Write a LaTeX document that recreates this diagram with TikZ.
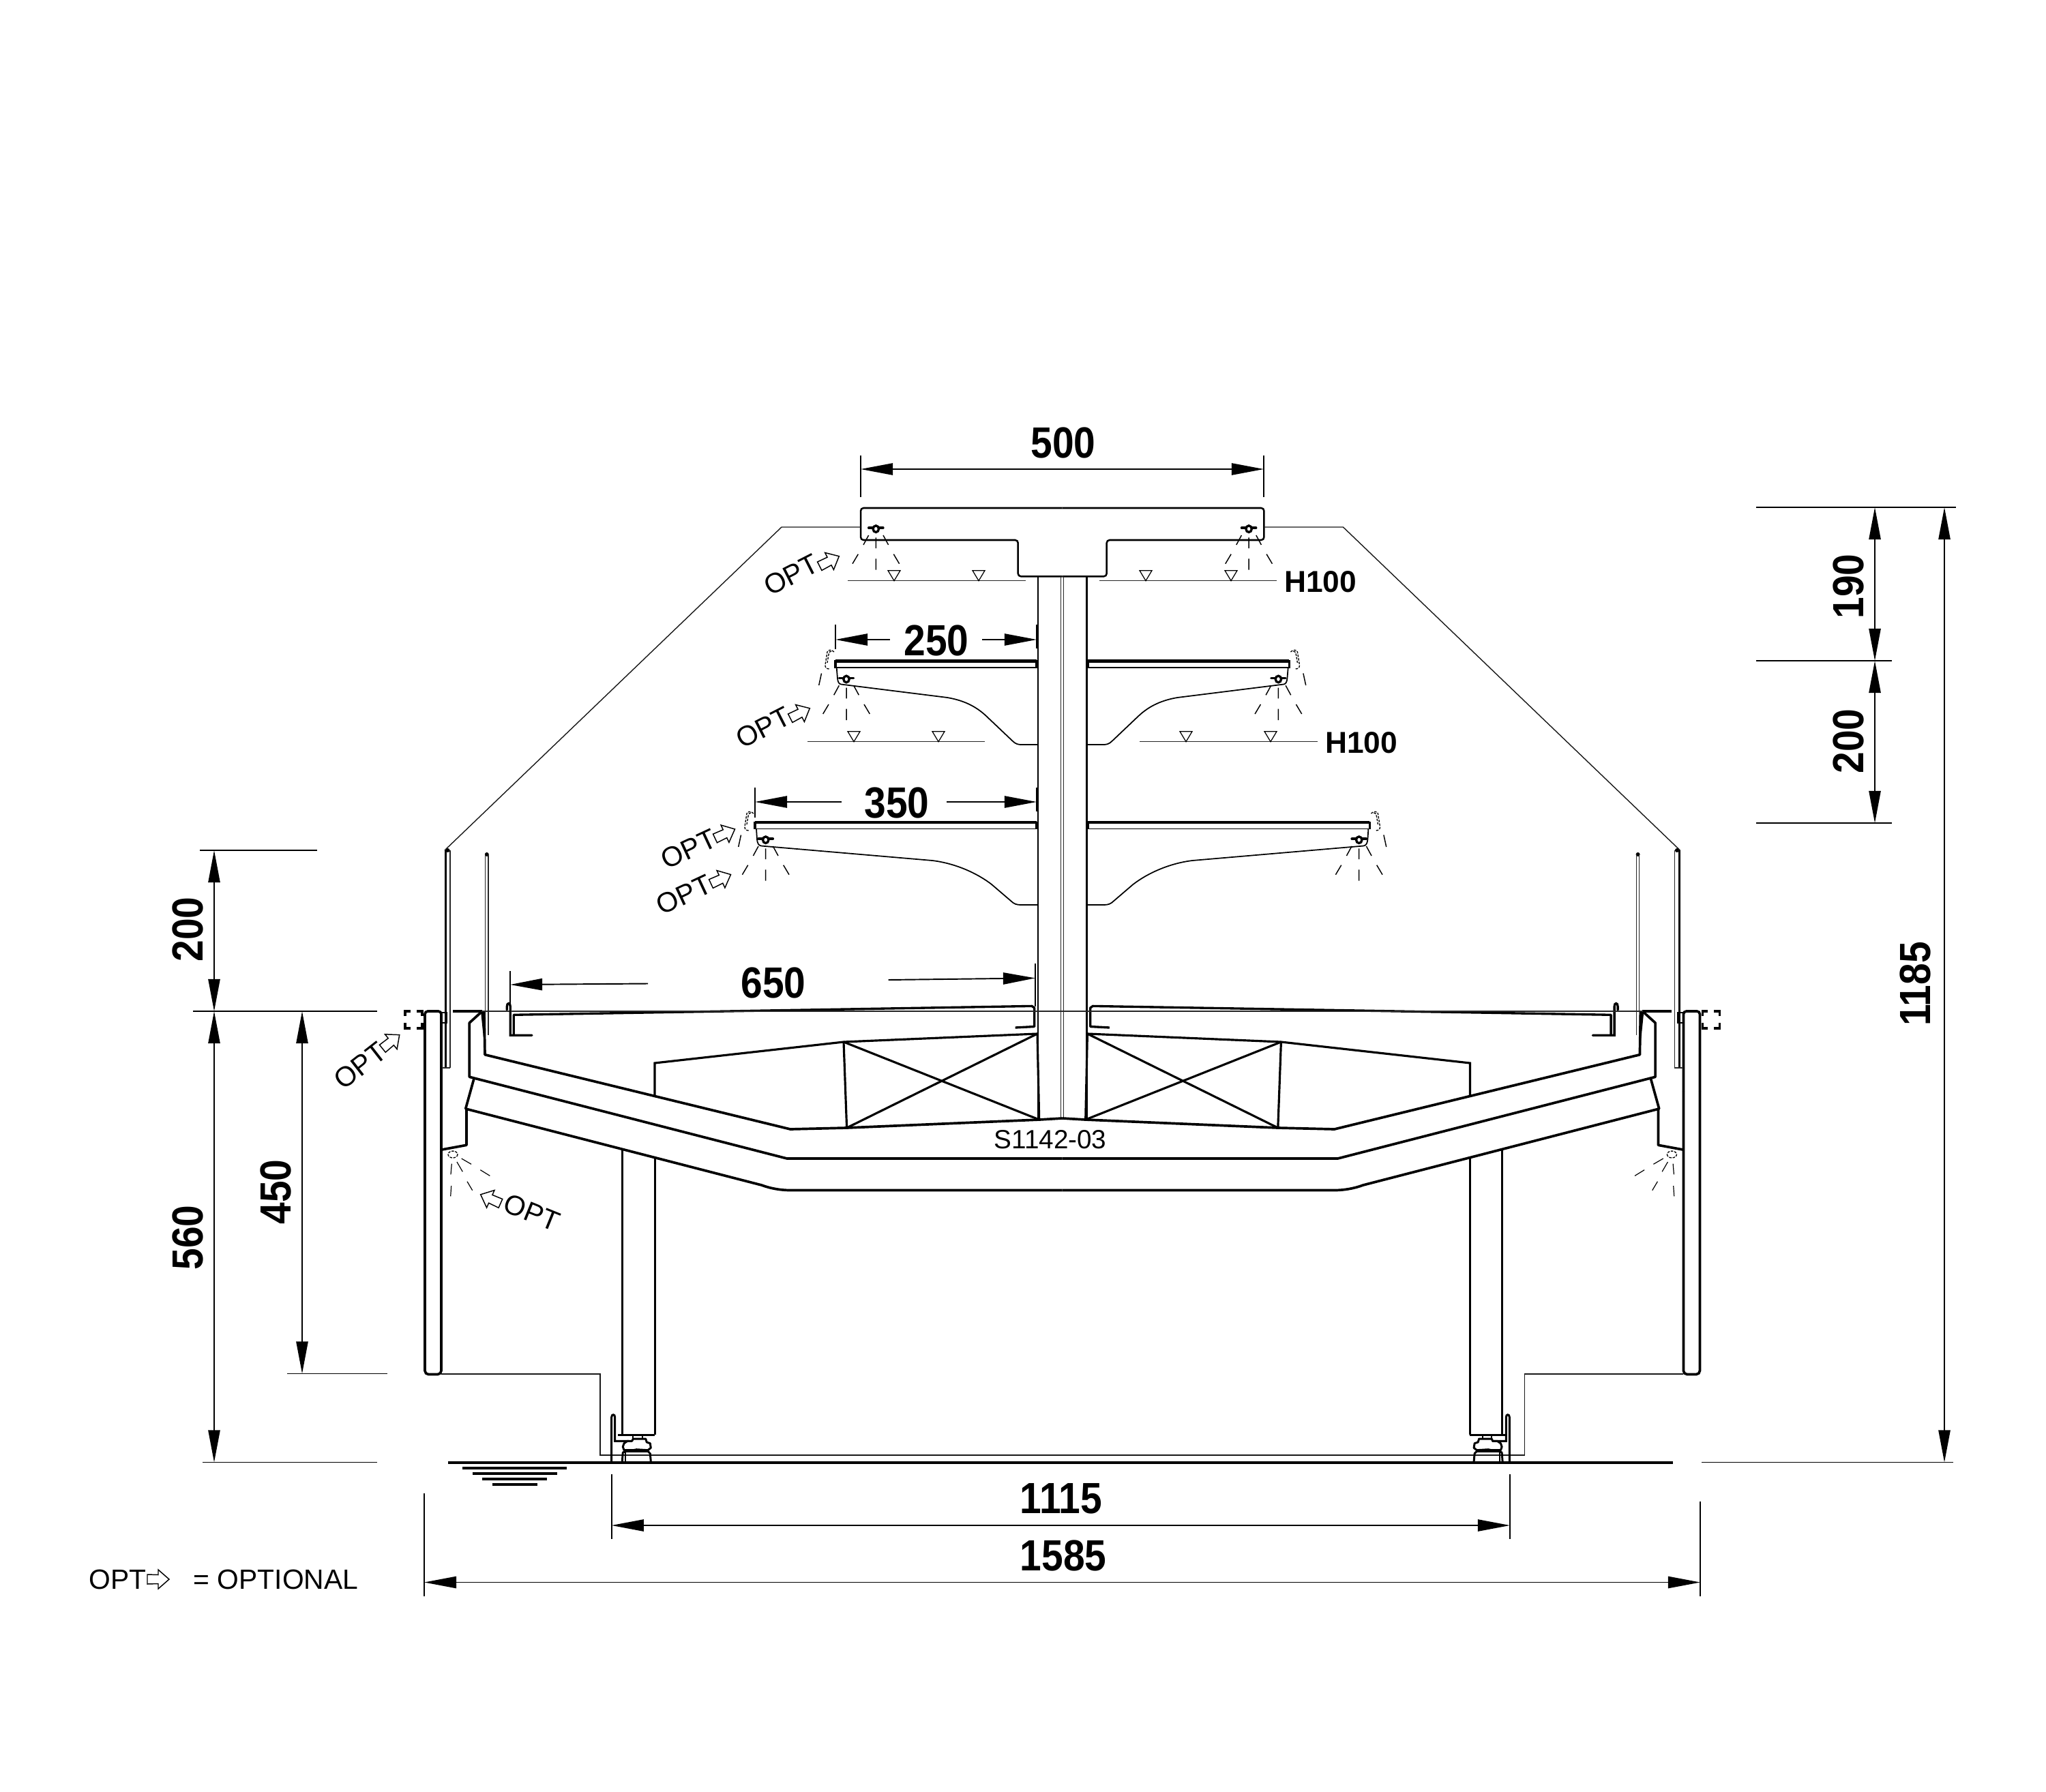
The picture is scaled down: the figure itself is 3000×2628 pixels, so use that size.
\documentclass[tikz,border=0pt]{standalone}
\usepackage{fontspec}
\setmainfont{Liberation Sans}
\newfontfamily\dimf{Liberation Sans}[FakeStretch=0.89]
\usetikzlibrary{arrows.meta}
\tikzset{
 thinl/.style={line width=0.4pt,black!90},
 hair/.style={line width=0.32pt,black!85},
 medl/.style={line width=0.72pt},
 cratel/.style={line width=0.9pt},
 heavy/.style={line width=1.05pt},
 shelfl/.style={line width=1.3pt},
 extl/.style={line width=0.55pt},
 dim/.style={line width=0.55pt,{Triangle[length=13.4pt,width=4.9pt]}-{Triangle[length=13.4pt,width=4.9pt]}},
 dimend/.style={line width=0.55pt,-{Triangle[length=13.4pt,width=4.9pt]}},
 dimtext/.style={inner sep=0pt,font=\dimf\bfseries\fontsize{18.2}{18.2}\selectfont},
 htext/.style={inner sep=0pt,font=\bfseries\fontsize{12.6}{12.6}\selectfont},
 opttext/.style={inner sep=0pt,font=\fontsize{11.6}{11.6}\selectfont},
 codetext/.style={inner sep=0pt,font=\fontsize{11}{11}\selectfont},
 spraydash/.style={line width=0.42pt,line cap=butt},
 lampdash/.style={line width=0.38pt,dash pattern=on 1pt off 0.5pt},
}
% nozzle with spray
\newcommand{\nozzlespray}[2]{%
 \begin{scope}[shift={(#1,#2)}]
  \draw[line width=0.95pt] (0,0) ellipse (4.2 and 4.8);
  \draw[line width=1.05pt,line cap=round] (-10.5,-1.5)--(-4.5,-1.5) (4.5,-1.5)--(10.5,-1.5);
  \draw[spraydash] (-10.7,9.3)--(-18.3,23.3) (-26,37)--(-34.3,51)
    (0,12.7)--(0,28.3) (0,43.7)--(0,60)
    (10.7,9.3)--(18.3,23.3) (26,37)--(34.3,51);
 \end{scope}}
% optional lamp, drawn dashed beside a shelf end
\newcommand{\lamp}[2]{%
 \begin{scope}[shift={(#1,#2)}]
  \draw[lampdash] (-2,-13) .. controls (-6,-17) and (-11,-16) .. (-12,-13) -- (-15,6) .. controls (-15.5,10) and (-13,12) .. (-9,12);
  \draw[lampdash] (-6,-14) .. controls (-8,-14) and (-9,-13) .. (-10,-9) -- (-12,3);
  \draw[spraydash] (-20.5,18.5)--(-24.3,36);
 \end{scope}}
% hollow optional arrow
\newcommand{\optarrow}[3]{%
 \begin{scope}[shift={(#1,#2)},rotate=#3]
  \draw[line width=0.42pt,line join=miter,fill=white] (-16,-7)--(0,-6.5)--(0,-14)--(16,0)--(0,14)--(0,6.5)--(-16,7)--cycle;
 \end{scope}}
% half of the symmetric machine, drawn twice
\newcommand{\foot}{%
  \draw[line width=0.85pt,line join=round] (912.3,2143.3)--(913.3,2130)--(918.3,2128.3)--(950,2128.3)--(953.3,2131.7)--(954.3,2143.3);
  \draw[line width=0.6pt] (916.7,2130)--(916.7,2143);
  \draw[line width=0.85pt,line join=round] (920,2113.3)--(915,2116.7)--(913.3,2121.7)--(915,2126.7)--(928.3,2126.7)--(933.3,2125.7)--(950,2126.7)--(954.3,2123.3)--(953.3,2116.7)--(948.3,2115)--(946.7,2110)--(928.3,2110)--(926.7,2113.3)--cycle;
  \draw[line width=0.6pt] (928.3,2104)--(928.3,2110) (941.7,2104)--(941.7,2110);
}
\newcommand{\halfmachine}{%
 % top box and glass
 \draw[medl,rounded corners=1.2pt] (1557.7,745)--(1262,745)--(1262,792)--(1492.7,792)--(1492.7,845.3)--(1557.7,845.3);
 \draw[thinl] (1262,773)--(1146,773)--(652,1247);
 \nozzlespray{1284.3}{775.7}
 % column
 \draw[medl] (1522,845)--(1522,1642);
 \draw[hair] (1555.5,845)--(1555.5,1640);
 % shelf 2
 \draw[shelfl] (1225,969.3)--(1520,969.3);
 \draw[line width=0.5pt] (1225,979.3)--(1520,979.3);
 \draw[line width=1pt] (1225,968)--(1225,980) (1520,968)--(1520,980);
 \draw[line width=0.5pt] (1226.7,979.3)--(1228,995) .. controls (1228.5,1000) and (1230,1003) .. (1233,1003.5) --(1389,1023) .. controls (1412,1027) and (1430,1035) .. (1446,1050)--(1485,1087) .. controls (1489,1091) and (1493,1092) .. (1497,1092)--(1522,1092);
 \nozzlespray{1241}{996}
 \lamp{1225}{969}
 % shelf 3
 \draw[shelfl] (1107,1206)--(1520,1206);
 \draw[line width=0.5pt] (1107,1215.5)--(1520,1215.5);
 \draw[line width=1pt] (1107,1205)--(1107,1216) (1520,1205)--(1520,1216);
 \draw[line width=0.5pt] (1109,1215.5)--(1110,1231) .. controls (1110.5,1236) and (1112,1240) .. (1116,1240.5)--(1367,1262) .. controls (1400,1266) and (1432,1280) .. (1454,1297)--(1482,1321) .. controls (1487,1326) and (1491,1327) .. (1497,1327)--(1522,1327);
 \nozzlespray{1122.7}{1231.7}
 \lamp{1107}{1206}
 % wall and glass panes
 \draw[heavy,rounded corners=1.2pt] (623,1600)--(623,1483)--(647,1483)--(647,1600);
 \draw[heavy,rounded corners=1.5pt] (647,1600)--(647,2015.5)--(623,2015.5)--(623,1600);
 \draw[thinl] (647,2015)--(880,2015)--(880,2134)--(1557.7,2134);
 \draw[line width=0.8pt] (653.3,1247)--(653.3,1566);
 \draw[hair] (660,1247)--(660,1566);
 \draw[hair] (647.5,1566)--(660,1566);
 \fill (656.5,1247) circle (3);
 \fill (713.8,1253) circle (3);
 \draw[hair] (711.7,1253)--(711.7,1483);
 \draw[hair] (716,1253)--(716,1517.7);
 \draw[line width=0.8pt] (647,1485)--(655,1485)--(655,1500)--(648,1500);
 \draw[line width=0.9pt] (664,1483)--(707,1483);
 \draw[line width=0.9pt] (602,1483)--(594,1483)--(594,1490) (611,1483)--(619,1483)--(619,1490)
   (602,1508)--(594,1508)--(594,1500) (611,1508)--(619,1508)--(619,1500);
 % trough
 \fill (705,1483)--(711.5,1483)--(711.5,1547)--cycle;
 \draw[heavy,line join=bevel] (706.7,1483.3)--(688.3,1500)--(688.3,1579.3)--(1153.9,1699)--(1557.7,1699);
 \draw[heavy,line join=bevel] (710,1483)--(711,1546.7)--(1158.8,1656)--(1241.6,1654)--(1524,1642)--(1557.7,1640);
 \draw[heavy,line join=bevel] (695,1581.7)--(682.7,1626)--(1116.7,1738) .. controls (1130,1743) and (1145,1745.5) .. (1158.8,1745.5)--(1557.7,1745.5);
 \draw[heavy,line join=bevel] (684,1626)--(684,1679.3)--(647.7,1686);
 % box and crate
 \draw[cratel] (960,1606)--(960,1559)--(1237,1528)--(1521,1516);
 \draw[cratel] (1237,1528)--(1241.6,1654);
 \draw[cratel] (1237,1528)--(1523.7,1642);
 \draw[cratel] (1241.6,1654)--(1521,1516);
 \draw[cratel] (1521,1516)--(1523.7,1642);
 % deck
 \draw[line width=0.95pt,line join=round] (1488.6,1507)--(1516.7,1505.5)--(1516.7,1478)--(1513,1475.4)--(753.3,1488.3)--(753.3,1518.3);
 \draw[line width=0.95pt,line cap=round] (780,1518.3)--(748.3,1518.3)--(748.3,1476) .. controls (748.3,1470) and (743.3,1470) .. (743.3,1476)--(743.3,1481);
 % leg and foot
 \draw[cratel] (912.7,1685)--(912.7,2104);
 \draw[cratel] (960.3,1698)--(960.3,2104);
 \draw[line width=0.85pt] (906,2104)--(960.3,2104);
 \foot
 % lower spray
 \draw[lampdash] (664,1693) ellipse (7 and 5);
 \draw[spraydash,line width=0.34pt] (662.3,1706.7)--(661,1722.3) (661.7,1739)--(660.7,1754.3)
  (670,1704)--(678.3,1718.3) (685,1732.7)--(692.7,1745.7)
  (676.7,1699)--(691,1707.3) (704.3,1715.7)--(718.3,1724.3);
}
\newcommand{\footbracket}{%
 \draw[line width=0.85pt,line cap=round] (896.7,2144)--(896.7,2078.3) .. controls (896.7,2073.5) and (901.7,2073.5) .. (901.7,2078.3)--(901.7,2113.3)--(921.7,2113.3);
}
\begin{document}
\begin{tikzpicture}[x=0.01cm,y=-0.01cm]
\useasboundingbox (0,0) rectangle (3000,2628);
% left half
\halfmachine
\footbracket
% right half
\begin{scope}[shift={(3115.4,0)},xscale=-1]
 \halfmachine
 \begin{scope}[shift={(5.4,0)}]\footbracket\end{scope}
\end{scope}
% centre parts
\draw[hair] (706,1483)--(2409,1483);
\draw[heavy] (657.3,2145)--(2452.7,2145);
\draw[heavy] (678.3,2152.7)--(830.7,2152.7);
\draw[heavy] (692.7,2160.7)--(816.7,2160.7);
\draw[heavy] (706.7,2169)--(801.7,2169);
\draw[heavy] (721.7,2177.3)--(788.3,2177.3);
% level lines with triangles
\foreach \xa/\xb/\yy in {1243/1504/851.7,1612/1872/851.7,1184/1444/1087.7,1671/1932/1087.7}
  \draw[hair] (\xa,\yy)--(\xb,\yy);
\foreach \xx/\yy in {1311/851.7,1435/851.7,1680/851.7,1805/851.7,1252/1087.7,1376/1087.7,1739/1087.7,1863/1087.7}
  \draw[line width=0.35pt] (\xx-9,\yy-15)--(\xx+9,\yy-15)--(\xx,\yy)--cycle;
\node[htext] (hA) at (1936,853) {H100};
\node[htext] (hB) at (1996,1089) {H100};
\node[codetext] (pn) at (1540,1671) {S1142-03};
% dimension 500
\draw[extl] (1262,668)--(1262,729);
\draw[extl] (1853,668)--(1853,729);
\coordinate (a500) at (1262,688); \coordinate (b500) at (1853,688);
\draw[dim] (a500)--(b500);
\node[dimtext] (t500) at (1559,649) {500};
% dimension 250
\draw[extl] (1225,916)--(1225,952);
\draw[line width=0.7pt] (1520.5,916)--(1520.5,951);
\coordinate (a250) at (1225,938); \coordinate (a250e) at (1305,938);
\coordinate (b250) at (1520,938); \coordinate (b250e) at (1440,938);
\draw[dimend] (a250e)--(a250);
\draw[dimend] (b250e)--(b250);
\node[dimtext] (t250) at (1373,939) {250};
% dimension 350
\draw[extl] (1107,1155)--(1107,1199);
\draw[line width=0.7pt] (1520.5,1155)--(1520.5,1190);
\coordinate (a350) at (1107,1176); \coordinate (a350e) at (1234,1176);
\coordinate (b350) at (1520,1176); \coordinate (b350e) at (1388,1176);
\draw[dimend] (a350e)--(a350);
\draw[dimend] (b350e)--(b350);
\node[dimtext] (t350) at (1315,1178) {350};
% dimension 650
\draw[extl] (748,1424)--(748,1518);
\draw[line width=0.55pt] (1518,1413)--(1518,1476);
\coordinate (a650) at (748,1444); \coordinate (a650e) at (950,1442.5);
\coordinate (b650) at (1518,1434.4); \coordinate (b650e) at (1302.6,1437);
\draw[dimend] (a650e)--(a650);
\draw[dimend] (b650e)--(b650);
\node[dimtext] (t650) at (1134,1441) {650};
% dimensions 1115 and 1585
\draw[extl] (896.7,2161.7)--(896.7,2257);
\draw[extl] (2214,2161.7)--(2214,2257);
\coordinate (a1115) at (896.7,2237); \coordinate (b1115) at (2214,2237);
\draw[dim] (a1115)--(b1115);
\node[dimtext] (t1115) at (1556,2198) {1115};
\draw[extl] (622,2190)--(622,2341);
\draw[extl] (2493,2201.7)--(2493,2341);
\coordinate (a1585) at (622,2320.5); \coordinate (b1585) at (2493,2320.5);
\draw[dim] (a1585)--(b1585);
\node[dimtext] (t1585) at (1559,2281) {1585};
% left dimensions
\draw[extl] (293,1247)--(465,1247);
\draw[extl] (283,1483)--(553,1483);
\draw[extl] (421,2014.5)--(568,2014.5);
\draw[extl] (297,2144.5)--(553,2144.5);
\coordinate (l1) at (314,1247); \coordinate (l2) at (314,1483); \coordinate (l3) at (314,2144.5);
\draw[dim] (l1)--(l2);
\draw[dim] (l2)--(l3);
\coordinate (m1) at (443,1483); \coordinate (m2) at (443,2014.5);
\draw[dim] (m1)--(m2);
\node[dimtext,rotate=90] (t200a) at (275,1363) {200};
\node[dimtext,rotate=90] (t560) at (275,1815) {560};
\node[dimtext,rotate=90] (t450) at (404,1748) {450};
% right dimensions
\draw[extl] (2575,744)--(2868,744);
\draw[extl] (2575,969)--(2774,969);
\draw[extl] (2575,1207)--(2774,1207);
\draw[extl] (2495,2144.5)--(2864,2144.5);
\coordinate (r1) at (2749,744); \coordinate (r2) at (2749,969); \coordinate (r3) at (2749,1207);
\draw[dim] (r1)--(r2);
\draw[dim] (r2)--(r3);
\coordinate (s1) at (2851,744); \coordinate (s2) at (2851,2144.5);
\draw[dim] (s1)--(s2);
\node[dimtext,rotate=90] (t190) at (2710,860) {190};
\node[dimtext,rotate=90] (t200b) at (2710,1087) {200};
\node[dimtext,rotate=90] (t1185) at (2808,1443) {1185};
% optional markers
\node[opttext,rotate=27] (o1) at (1160,843) {OPT};
\optarrow{1216}{823}{27}
\node[opttext,rotate=27] (o2) at (1119,1067) {OPT};
\optarrow{1173}{1046}{27}
\node[opttext,rotate=25] (o3) at (1010,1245) {OPT};
\optarrow{1063}{1222.7}{25}
\node[opttext,rotate=25] (o4) at (1003,1312) {OPT};
\optarrow{1057}{1289.3}{25}
\node[opttext,rotate=38] (o5) at (528,1563) {OPT};
\optarrow{573.3}{1527.7}{39}
\node[opttext,rotate=-22] (o6) at (780,1778) {OPT};
\optarrow{719.3}{1758.3}{156}
% legend
\node[opttext,anchor=west] (lg1) at (130,2316) {OPT};
\optarrow{232}{2316}{0}
\node[opttext,anchor=west] (lg2) at (283,2316) {= OPTIONAL};
\end{tikzpicture}
\end{document}
